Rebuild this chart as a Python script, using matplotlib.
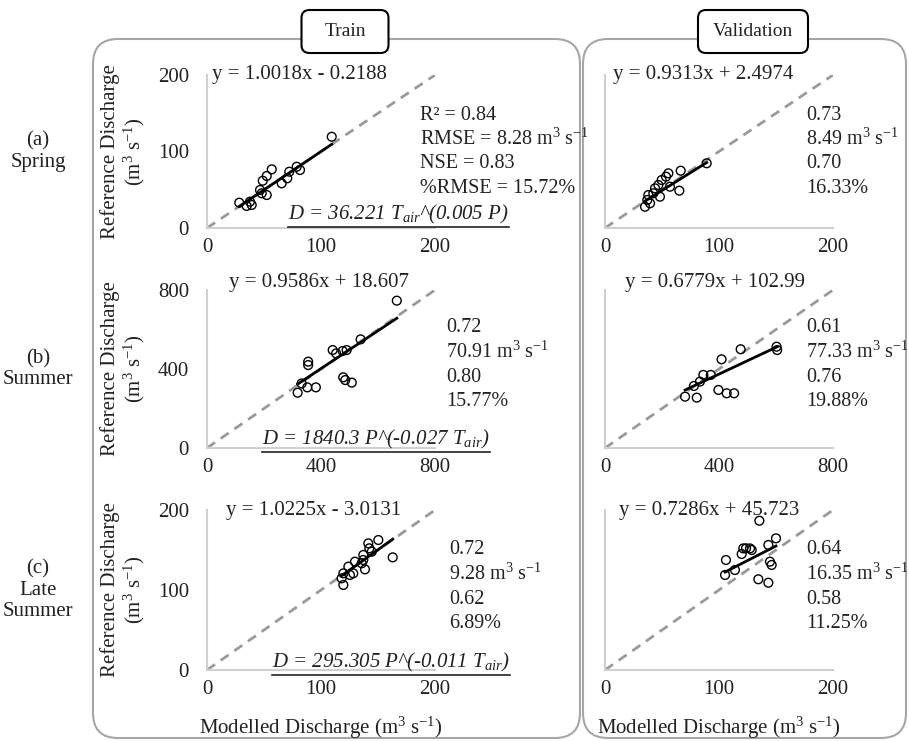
import numpy as np
import matplotlib
matplotlib.use("Agg")
import matplotlib.pyplot as plt
from matplotlib.patches import FancyBboxPatch
from matplotlib.lines import Line2D
from matplotlib.transforms import IdentityTransform

plt.rcParams['font.family'] = ['Liberation Serif', 'DejaVu Serif']
plt.rcParams['mathtext.fontset'] = 'custom'
plt.rcParams['mathtext.rm'] = 'Liberation Serif'
plt.rcParams['mathtext.it'] = 'Liberation Serif:italic'

# ---- data ----
spring_train_x = [109.4, 81.6, 78.7, 72.2, 70.4, 65.5, 56.8, 52.4, 48.9, 46.5, 52.4, 48.0, 37.7, 39.2, 34.8, 28.3]
spring_train_y = [119.3, 75.8, 80.1, 73.6, 65.0, 58.4, 76.7, 68.0, 61.8, 49.7, 43.1, 45.4, 34.4, 30.1, 28.8, 33.1]
spring_val_x = [89.2, 66.4, 65.2, 57.0, 55.6, 53.5, 49.7, 46.8, 43.9, 48.2, 42.4, 38.0, 39.5, 35.1, 37.1]
spring_val_y = [84.6, 74.9, 48.8, 54.0, 71.5, 67.1, 62.7, 56.2, 51.9, 40.9, 45.4, 43.1, 32.3, 27.8, 36.6]

summer_train_x = [355, 355, 441, 453, 476, 490, 539, 332, 352, 382, 318, 478, 485, 508, 666]
summer_train_y = [437, 420, 496, 479, 491, 496, 550, 327, 307, 307, 280, 358, 344, 331, 746]
summer_val_x = [476, 409, 371, 345, 333, 312, 281, 322, 398, 427, 453, 602, 604]
summer_val_y = [500, 449, 370, 370, 336, 314, 260, 255, 294, 277, 277, 513, 496]

late_train_x = [150.3, 141.5, 142.4, 137.1, 162.9, 144.5, 137.1, 129.8, 138.6, 128.3, 124.0, 119.6, 118.1, 119.6, 135.7, 125.4]
late_train_y = [162.5, 158.3, 152.1, 143.8, 140.8, 147.9, 137.5, 135.4, 125.8, 120.8, 129.2, 120.8, 114.6, 106.3, 133.4, 118.8]
late_val_x = [135.4, 150.0, 143.3, 123.7, 128.7, 119.9, 144.7, 146.2, 106.1, 114.0, 105.3, 134.5, 143.3, 121.3, 127.2]
late_val_y = [186.6, 164.6, 156.3, 152.1, 150.0, 145.0, 135.4, 131.3, 137.5, 125.0, 118.8, 113.4, 109.1, 152.0, 152.0]

slopes = [[1.0018, 0.9313], [0.9586, 0.6779], [1.0225, 0.7286]]
intercepts = [[-0.2188, 2.4974], [18.607, 102.99], [-3.0131, 45.723]]
eq_labels = [["y = 1.0018x - 0.2188", "y = 0.9313x + 2.4974"],
             ["y = 0.9586x + 18.607", "y = 0.6779x + 102.99"],
             ["y = 1.0225x - 3.0131", "y = 0.7286x + 45.723"]]

unit = "m$^{3}$ s$^{-1}$"
stats = [[["R\u00b2 = 0.84", "RMSE = 8.28 " + unit, "NSE = 0.83", "%RMSE = 15.72%"],
          ["0.73", "8.49 " + unit, "0.70", "16.33%"]],
         [["0.72", "70.91 " + unit, "0.80", "15.77%"],
          ["0.61", "77.33 " + unit, "0.76", "19.88%"]],
         [["0.72", "9.28 " + unit, "0.62", "6.89%"],
          ["0.64", "16.35 " + unit, "0.58", "11.25%"]]]

formulas = ["$D$ = 36.221 $T_{air}$^(0.005 $P$)",
            "$D$ = 1840.3 $P$^(-0.027 $T_{air}$)",
            "$D$ = 295.305 $P$^(-0.011 $T_{air}$)"]

row_names = ["(a)\nSpring", "(b)\nSummer", "(c)\nLate\nSummer"]
col_names = ["Train", "Validation"]
axis_max = [200, 800, 200]
axis_ticks = [[0, 100, 200], [0, 400, 800], [0, 100, 200]]

points = [[(spring_train_x, spring_train_y), (spring_val_x, spring_val_y)],
          [(summer_train_x, summer_train_y), (summer_val_x, summer_val_y)],
          [(late_train_x, late_train_y), (late_val_x, late_val_y)]]

# ---- layout (pixels, origin top-left) ----
W, H = 909, 741
FS = 15
SFS = 14.5
TXT = "#222222"


def fx(px):
    return px / W


def fy(py):
    return 1 - py / H


fig = plt.figure(figsize=(W / 100, H / 100), dpi=100)

# rounded group panels
def panel(x0, x1, y0, y1, r=0.25, **kw):
    p = FancyBboxPatch((x0 / 100, (H - y1) / 100), (x1 - x0) / 100, (y1 - y0) / 100,
                       boxstyle=f"round,pad=0,rounding_size={r}",
                       transform=fig.dpi_scale_trans, **kw)
    fig.add_artist(p)
    return p

panel(93, 580, 39, 738, facecolor="none", edgecolor="#a6a6a6", linewidth=1.5)
panel(583, 906, 39, 738, facecolor="none", edgecolor="#a6a6a6", linewidth=1.5)

for name, cx, bw in zip(col_names, [345, 753], [87, 110]):
    panel(cx - bw / 2, cx + bw / 2, 10, 53, r=0.08, facecolor="white",
          edgecolor="black", linewidth=1.5, zorder=5)
    fig.text(fx(cx), fy(31), name, ha="center", va="center", fontsize=FS - 1, color=TXT, zorder=6)

col_left = [207, 605]
ax_w = 228
row_top = [75, 290, 510]
row_bot = [228, 448, 670]

eq_pos = [[(212, 75), (613, 75)], [(229, 283), (625, 283)], [(226, 510), (619, 510)]]
stat_pos = [[(420, 115), (806, 115)], [(446, 328), (806, 328)], [(449, 550), (806, 550)]]
formula_pos = [(288, 214), (262, 439), (272, 662)]

underline_texts = []

for r in range(3):
    for c in range(2):
        ax = fig.add_axes([fx(col_left[c]), fy(row_bot[r]), ax_w / W, (row_bot[r] - row_top[r]) / H])
        m = axis_max[r]
        ax.set_xlim(0, m)
        ax.set_ylim(0, m)
        ax.set_xticks(axis_ticks[r])
        ax.set_yticks(axis_ticks[r])
        for s in ["top", "right"]:
            ax.spines[s].set_visible(False)
        for s in ["left", "bottom"]:
            ax.spines[s].set_color("#d0d0d0")
            ax.spines[s].set_linewidth(1.5)
        ax.tick_params(length=0, labelsize=FS, labelcolor=TXT)
        ax.tick_params(axis="y", pad=13)
        ax.tick_params(axis="x", pad=7)
        if c == 1:
            ax.tick_params(axis="y", labelleft=False)
        ax.patch.set_alpha(0)

        # 1:1 line
        ax.plot([0, m], [0, m], color="#9a9a9a", linewidth=2, linestyle=(0, (3.5, 2.5)), zorder=1)

        xs, ys = points[r][c]
        xs = np.array(xs)
        ys = np.array(ys)
        ax.scatter(xs, ys, s=40, facecolors="none", edgecolors="black", linewidths=1.0, zorder=3)

        xl = np.array([xs.min(), xs.max()])
        ax.plot(xl, slopes[r][c] * xl + intercepts[r][c], color="black", linewidth=2, zorder=2)

        ex, ey = eq_pos[r][c]
        fig.text(fx(ex), fy(ey), eq_labels[r][c], ha="left", va="center", fontsize=FS, color=TXT)

        sx, sy = stat_pos[r][c]
        for i, line in enumerate(stats[r][c]):
            fig.text(fx(sx), fy(sy + 24.5 * i), line, ha="left", va="center", fontsize=SFS, color=TXT)

        if c == 0:
            px, py = formula_pos[r]
            t = fig.text(fx(px), fy(py), formulas[r], ha="left", va="center", fontsize=FS,
                         style="italic", color=TXT)
            underline_texts.append(t)

            cy = (row_top[r] + row_bot[r]) / 2
            fig.text(fx(124), fy(cy), "Reference Discharge\n(m$^{3}$ s$^{-1}$)", rotation=90,
                     ha="center", va="center", fontsize=FS, color=TXT, linespacing=1.1,
                     multialignment="center")
            fig.text(fx(38), fy(cy), row_names[r], ha="center", va="center", fontsize=FS,
                     color=TXT, linespacing=1.15)

        if r == 2:
            fig.text(fx(col_left[c] + ax_w / 2), fy(728), "Modelled Discharge (m$^{3}$ s$^{-1}$)",
                     ha="center", va="center", fontsize=FS, color=TXT)

fig.canvas.draw()
renderer = fig.canvas.get_renderer()
for t in underline_texts:
    bb = t.get_window_extent(renderer)
    fig.add_artist(Line2D([bb.x0, bb.x1], [bb.y0 - 1, bb.y0 - 1], transform=IdentityTransform(),
                          color=TXT, linewidth=1.2))

fig.savefig("out.png", dpi=100, facecolor="white")
